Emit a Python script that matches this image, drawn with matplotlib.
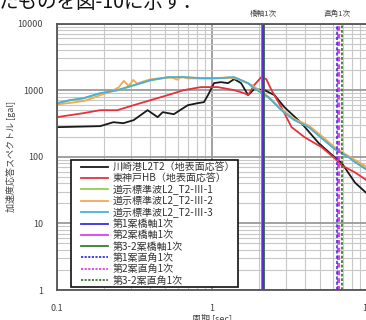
import matplotlib
matplotlib.use("Agg")
import matplotlib.pyplot as plt
from matplotlib.lines import Line2D
from matplotlib.patches import Rectangle
from matplotlib.ticker import FixedLocator, FixedFormatter, NullFormatter

plt.rcParams['font.family'] = ['Noto Sans CJK JP', 'DejaVu Sans']

# ---- data (period [sec], spectrum [gal]) ----
kawasaki_T = [0.1, 0.19, 0.231, 0.268, 0.312, 0.384, 0.446, 0.481, 0.567, 0.698, 0.811, 0.887,
              0.942, 1.03, 1.14, 1.27, 1.39, 1.54, 1.71, 1.87, 2.18, 2.53, 2.93, 3.78, 4.88,
              6.19, 6.88, 8.36, 10.0]
kawasaki_V = [278, 288, 330, 319, 354, 500, 393, 467, 435, 594, 638, 660,
              841, 1274, 1318, 1274, 1464, 1274, 841, 1035, 1000, 841, 555, 319, 160,
              98, 80, 41, 28]

kobe_T = [0.1, 0.148, 0.19, 0.245, 0.312, 0.402, 0.518, 0.658, 0.848, 1.09, 1.39, 1.61, 1.71,
          1.87, 2.08, 2.24, 2.42, 2.80, 3.26, 3.96, 5.10, 6.19, 6.88, 8.39, 10.0]
kobe_V = [393, 451, 500, 500, 594, 707, 841, 1000, 1110, 1110, 1000, 901, 841,
          1189, 1567, 1464, 1000, 555, 278, 196, 139, 95, 74, 58, 44]

std1_T = [0.1, 0.121, 0.148, 0.19, 0.245, 0.312, 0.402, 0.518, 0.658, 0.848, 1.09, 1.39, 1.71,
          1.87, 2.31, 2.80, 3.40, 4.20, 5.10, 6.19, 7.62, 8.36, 10.0]
std1_V = [630, 700, 750, 890, 990, 1170, 1400, 1550, 1560, 1500, 1500, 1550, 1260,
          1060, 780, 505, 360, 285, 195, 132, 100, 86, 65]

std2_T = [0.1, 0.12, 0.15, 0.17, 0.19, 0.22, 0.25, 0.27, 0.29, 0.31, 0.33, 0.36, 0.40, 0.45,
          0.55, 0.60, 0.63, 0.70, 0.85, 1.0, 1.3, 1.5, 1.8, 2.3, 2.8, 3.4, 4.2, 5.1, 6.2, 7.6, 10.0]
std2_V = [610, 640, 690, 760, 840, 940, 1100, 1380, 1150, 1420, 1250, 1350, 1450, 1500,
          1550, 1430, 1600, 1500, 1500, 1500, 1550, 1450, 1200, 800, 520, 370, 295, 205, 138, 102, 70]

std3_T = [0.1, 0.121, 0.148, 0.19, 0.245, 0.312, 0.402, 0.518, 0.658, 0.848, 1.09, 1.39, 1.71,
          1.87, 2.31, 2.80, 3.40, 4.20, 5.10, 6.19, 7.62, 8.36, 10.0]
std3_V = [638, 708, 758, 901, 1000, 1189, 1413, 1567, 1567, 1514, 1514, 1567, 1274,
          1072, 785, 500, 354, 278, 190, 130, 98, 83, 63]

bridge_axis_T = [2.14, 2.12, 2.15]       # 第1案, 第2案, 第3-2案 橋軸1次
transverse_T = [6.45, 6.47, 6.90]        # 第1案, 第2案, 第3-2案 直角1次

labels = ['川崎港L2T2（地表面応答）', '東神戸HB（地表面応答）',
          '道示標準波L2_T2-Ⅲ-1', '道示標準波L2_T2-Ⅲ-2', '道示標準波L2_T2-Ⅲ-3',
          '第1案橋軸1次', '第2案橋軸1次', '第3-2案橋軸1次',
          '第1案直角1次', '第2案直角1次', '第3-2案直角1次']

y_ticks = [1, 10, 100, 1000, 10000]
y_ticklabels = ['1', '10', '100', '1000', '10000']
x_ticks = [0.1, 1, 10]
x_ticklabels = ['0.1', '1', '10']

# ---- figure ----
W, H = 366, 320
fig = plt.figure(figsize=(W / 100, H / 100), dpi=100)
ax = fig.add_axes([57 / W, (H - 290) / H, 310 / W, (290 - 23.5) / H])
ax.set_xscale('log')
ax.set_yscale('log')
ax.set_xlim(0.1, 10)
ax.set_ylim(1, 10000)

ax.grid(True, which='minor', color='#c8c8c8', linewidth=0.8)
ax.grid(True, which='major', color='#9a9a9a', linewidth=1.3)
ax.set_axisbelow(True)

series_colors = ['#1a1a1a', '#e8303c', '#92d050', '#f5a850', '#4ab0d8']
ax.plot(kawasaki_T, kawasaki_V, color=series_colors[0], lw=1.3)
ax.plot(kobe_T, kobe_V, color=series_colors[1], lw=1.3)
ax.plot(std1_T, std1_V, color=series_colors[2], lw=1.3)
ax.plot(std2_T, std2_V, color=series_colors[3], lw=1.3)
ax.plot(std3_T, std3_V, color=series_colors[4], lw=1.3)

vcol = ['#3a2ee0', '#e040e8', '#3c7a30']
dash = (0, (1.5, 1))
ax.axvline(bridge_axis_T[1], color=vcol[1], lw=2.8)
ax.axvline(bridge_axis_T[2], color=vcol[2], lw=1.3)
ax.axvline(bridge_axis_T[0], color=vcol[0], lw=1.6, alpha=0.8)
ax.axvline(transverse_T[1], color=vcol[1], lw=2.2, ls=dash)
ax.axvline(transverse_T[0], color=vcol[0], lw=1.5, ls=dash, alpha=0.8)
ax.axvline(transverse_T[2], color=vcol[2], lw=1.3, ls=dash)

handles = [Line2D([], [], color=c, lw=1.3) for c in series_colors]
handles += [Line2D([], [], color=c, lw=1.3) for c in vcol]
handles += [Line2D([], [], color=c, lw=1.3, ls=(0, (1.2, 0.8))) for c in vcol]

ax.yaxis.set_major_locator(FixedLocator(y_ticks))
ax.yaxis.set_major_formatter(FixedFormatter(y_ticklabels))
ax.xaxis.set_major_locator(FixedLocator(x_ticks))
ax.xaxis.set_major_formatter(FixedFormatter(x_ticklabels))
ax.xaxis.set_minor_formatter(NullFormatter())
ax.yaxis.set_minor_formatter(NullFormatter())
ax.tick_params(which='both', length=0, labelsize=6.5, labelcolor='#444444')
ax.tick_params(axis='y', pad=10)
ax.tick_params(axis='x', pad=10)

for s in ax.spines.values():
    s.set_color('#555555')
    s.set_linewidth(1.3)

ax.set_xlabel('周期 [sec]', fontsize=6.5, color='#444444', labelpad=0)
ax.set_ylabel('加速度応答スペクトル [gal]', fontsize=6.5, color='#444444', labelpad=1)

ax.text(bridge_axis_T[0], 1.019, '橋軸1次', transform=ax.get_xaxis_transform(),
        ha='center', va='bottom', fontsize=5.5, color='#444444')
ax.text(transverse_T[0], 1.019, '直角1次', transform=ax.get_xaxis_transform(),
        ha='center', va='bottom', fontsize=5.5, color='#444444')

# legend box
box = Rectangle((71 / W, 1 - 287 / H), (238 - 71) / W, (287 - 160) / H,
                transform=fig.transFigure, facecolor='white', edgecolor='#111111',
                linewidth=1.2, zorder=4, clip_on=False)
ax.add_patch(box)

leg = ax.legend(handles, labels, loc='upper left',
                bbox_to_anchor=(80 / W, 1 - 161 / H), bbox_transform=fig.transFigure,
                fontsize=7.2, handlelength=2.7, handletextpad=0.5, labelspacing=0.13,
                borderpad=0.1, borderaxespad=0, frameon=False)
leg.set_zorder(5)
for t in leg.get_texts():
    t.set_color('#333333')

fig.text(-0.005, 1 - 13 / H, 'たものを図-10に示す．', fontsize=14, ha='left', va='bottom',
         color='#111111')

fig.savefig('out.png', dpi=100)
